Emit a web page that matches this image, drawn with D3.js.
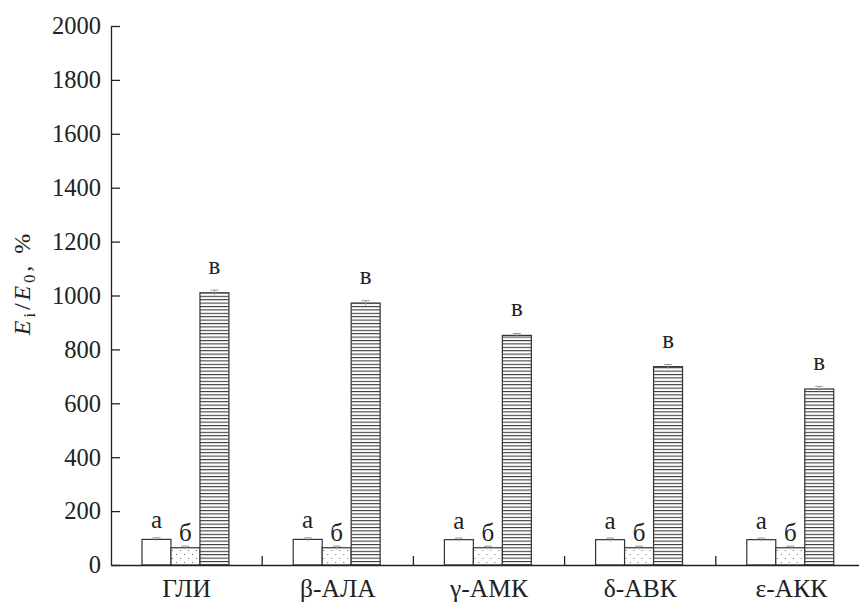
<!DOCTYPE html>
<html>
<head>
<meta charset="utf-8">
<script src="https://cdn.jsdelivr.net/npm/d3@7"></script>
<style>
  html, body { margin: 0; padding: 0; background: #fff; }
  svg { display: block; }
  text { font-family: "Liberation Serif", "DejaVu Serif", serif; fill: #222; }
</style>
</head>
<body>
<svg id="chart" width="859" height="603"></svg>
<script>
// Amino acids on the x axis
const categories = ["ГЛИ", "β-АЛА", "γ-АМК", "δ-АВК", "ε-АКК"];
// Three measured series (letters shown above each bar)
const seriesKeys = ["а", "б", "в"];
const valuesA = [95, 95, 94, 94, 94];
const valuesB = [64, 64, 64, 64, 64];
const valuesV = [1010, 972, 852, 736, 653];
const errorsA = [6, 6, 6, 6, 6];
const errorsB = [6, 6, 6, 6, 6];
const errorsV = [10, 9, 7, 8, 10];
const yTicks = [0, 200, 400, 600, 800, 1000, 1200, 1400, 1600, 1800, 2000];

const rows = categories.map((c, i) => ({
  cat: c,
  bars: [
    { key: "а", value: valuesA[i], err: errorsA[i] },
    { key: "б", value: valuesB[i], err: errorsB[i] },
    { key: "в", value: valuesV[i], err: errorsV[i] }
  ]
}));

const svg = d3.select("#chart");
const plot = { left: 111, right: 867, top: 26, bottom: 565 };

const x = d3.scaleBand().domain(categories).range([plot.left, plot.right]).padding(0);
const inner = d3.scaleBand().domain(seriesKeys)
  .range([x.bandwidth() * 0.205, x.bandwidth() * 0.78]).padding(0);
const y = d3.scaleLinear().domain([0, 2000]).range([plot.bottom, plot.top]);

// Fill patterns
const defs = svg.append("defs");
const dots = defs.append("pattern").attr("id", "dots")
  .attr("patternUnits", "userSpaceOnUse").attr("width", 8).attr("height", 8);
dots.append("rect").attr("width", 8).attr("height", 8).attr("fill", "#fff");
dots.append("rect").attr("x", 1).attr("y", 2).attr("width", 1).attr("height", 1).attr("fill", "#666");
dots.append("rect").attr("x", 5).attr("y", 6).attr("width", 1).attr("height", 1).attr("fill", "#666");

const hatch = defs.append("pattern").attr("id", "hlines")
  .attr("patternUnits", "userSpaceOnUse").attr("width", 10).attr("height", 3.4);
hatch.append("rect").attr("width", 10).attr("height", 3.4).attr("fill", "#fff");
hatch.append("line").attr("x1", 0).attr("x2", 10).attr("y1", 0.5).attr("y2", 0.5)
  .attr("stroke", "#333").attr("stroke-width", 1.1);

const fills = { "а": "#fff", "б": "url(#dots)", "в": "url(#hlines)" };

// Bars
const groups = svg.append("g").selectAll("g").data(rows).join("g")
  .attr("transform", d => `translate(${x(d.cat)},0)`);

groups.selectAll("rect.bar").data(d => d.bars).join("rect")
  .attr("class", "bar")
  .attr("x", b => inner(b.key))
  .attr("y", b => y(b.value))
  .attr("width", inner.bandwidth())
  .attr("height", b => y(0) - y(b.value))
  .attr("fill", b => fills[b.key])
  .attr("stroke", "#333")
  .attr("stroke-width", 1.2);

// Error bars
const eb = groups.selectAll("g.err").data(d => d.bars).join("g").attr("class", "err")
  .attr("stroke", "#999").attr("stroke-width", 1);
eb.append("line")
  .attr("x1", b => inner(b.key) + inner.bandwidth() / 2)
  .attr("x2", b => inner(b.key) + inner.bandwidth() / 2)
  .attr("y1", b => y(b.value + b.err)).attr("y2", b => y(b.value - b.err));
eb.append("line")
  .attr("x1", b => inner(b.key) + inner.bandwidth() / 2 - 4)
  .attr("x2", b => inner(b.key) + inner.bandwidth() / 2 + 4)
  .attr("y1", b => y(b.value + b.err)).attr("y2", b => y(b.value + b.err));

// Letters above bars
const labelGap = { "а": 11, "б": 7, "в": 19 };
groups.selectAll("text.lbl").data(d => d.bars).join("text")
  .attr("class", "lbl")
  .attr("x", b => inner(b.key) + inner.bandwidth() / 2)
  .attr("y", b => y(b.value) - labelGap[b.key])
  .attr("text-anchor", "middle")
  .attr("font-size", 25)
  .text(b => b.key);

// Y axis with inward ticks
const yAxis = svg.append("g").attr("transform", `translate(${plot.left},0)`)
  .call(d3.axisLeft(y).tickValues(yTicks).tickFormat(d3.format("d"))
    .tickSizeInner(-9).tickSizeOuter(0).tickPadding(10));
yAxis.select(".domain").attr("stroke", "#222").attr("stroke-width", 1.3);
yAxis.selectAll(".tick line").attr("stroke", "#222").attr("stroke-width", 1.3);
yAxis.selectAll(".tick text").attr("font-size", 24.5)
  .attr("font-family", "Liberation Serif, serif").attr("fill", "#222");

// X axis: category labels and boundary ticks between groups
const xAxis = svg.append("g").attr("transform", `translate(0,${plot.bottom})`)
  .call(d3.axisBottom(x).tickSize(0).tickPadding(14).tickSizeOuter(0));
xAxis.select(".domain").attr("stroke", "#222").attr("stroke-width", 1.3);
xAxis.selectAll(".tick text").attr("font-size", 25.5)
  .attr("font-family", "Liberation Serif, serif").attr("fill", "#222");

svg.append("g").selectAll("line").data(categories.slice(0, -1)).join("line")
  .attr("x1", c => x(c) + x.bandwidth()).attr("x2", c => x(c) + x.bandwidth())
  .attr("y1", plot.bottom).attr("y2", plot.bottom - 9)
  .attr("stroke", "#222").attr("stroke-width", 1.3);

// Y axis title: E_i/E_0, %
const yt = svg.append("text")
  .attr("transform", "translate(30,283) rotate(-90)")
  .attr("text-anchor", "middle")
  .attr("font-size", 24)
  .attr("letter-spacing", 3);
yt.append("tspan").attr("font-style", "italic").text("E");
yt.append("tspan").attr("font-size", 16).attr("dy", 5).text("i");
yt.append("tspan").attr("dy", -5).text("/");
yt.append("tspan").attr("font-style", "italic").text("E");
yt.append("tspan").attr("font-size", 16).attr("dy", 5).text("0");
yt.append("tspan").attr("dy", -5).text(", %");
</script>
</body>
</html>
